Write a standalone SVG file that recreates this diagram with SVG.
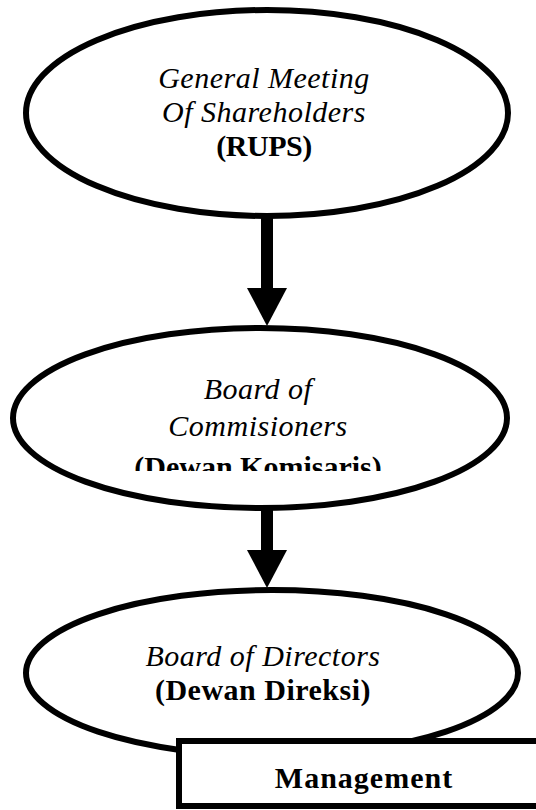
<svg xmlns="http://www.w3.org/2000/svg" width="536" height="810" viewBox="0 0 536 810">
<style>
.shape{fill:#fff;stroke:#000;stroke-width:6}
.it{font-style:italic;font-size:30px;fill:#000;text-anchor:middle;letter-spacing:0.5px}
.bd{font-weight:bold;font-size:30px;fill:#000;text-anchor:middle}
.arrow{fill:#000;stroke:none}
</style>
<defs>
<clipPath id="clipKom"><rect x="0" y="440" width="536" height="31"/></clipPath>
</defs>
<rect width="536" height="810" fill="#fff"/>
<g id="connectors">
<rect class="arrow" x="261" y="214" width="12" height="76"/>
<polygon class="arrow" points="247,288 287,288 267,326"/>
<rect class="arrow" x="261" y="506" width="12" height="46"/>
<polygon class="arrow" points="247,550 287,550 267,588"/>
</g>
<g id="rups" font-family="'Liberation Serif', 'Times New Roman', 'DejaVu Serif', serif">
<ellipse class="shape" cx="267" cy="113" rx="241" ry="103"/>
<text class="it" x="264" y="88">General Meeting</text>
<text class="it" x="264" y="122">Of Shareholders</text>
<text class="bd" x="264" y="156" letter-spacing="-0.5">(RUPS)</text>
</g>
<g id="komisaris" font-family="'Liberation Serif', 'Times New Roman', 'DejaVu Serif', serif">
<ellipse class="shape" cx="260" cy="418" rx="247" ry="90"/>
<text class="it" x="258" y="399">Board of</text>
<text class="it" x="258" y="436">Commisioners</text>
<text class="bd" x="258" y="477" clip-path="url(#clipKom)">(Dewan Komisaris)</text>
</g>
<g id="direksi" font-family="'Liberation Serif', 'Times New Roman', 'DejaVu Serif', serif">
<ellipse class="shape" cx="272" cy="673" rx="246" ry="83"/>
<text class="it" x="263" y="666">Board of Directors</text>
<text class="bd" x="263" y="700" letter-spacing="0.5">(Dewan Direksi)</text>
</g>
<g id="management" font-family="'Liberation Serif', 'Times New Roman', 'DejaVu Serif', serif">
<rect class="shape" x="179" y="741" width="380" height="65"/>
<text class="bd" x="364" y="788" letter-spacing="1">Management</text>
</g>
</svg>
